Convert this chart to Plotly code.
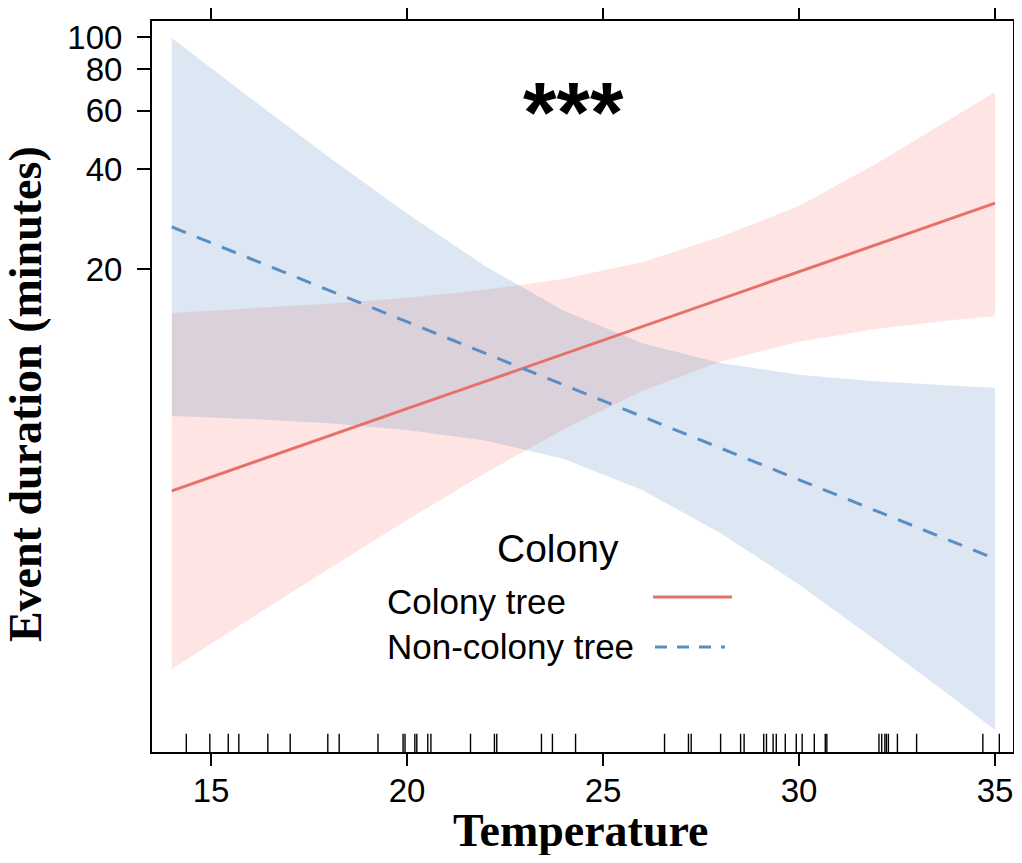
import plotly.graph_objects as go

# ---- data ----
temperature = [14, 16, 18, 20, 22, 24, 26, 28, 30, 32, 34, 35]

colony_fit = [4.29, 5.18, 6.27, 7.59, 9.17, 11.09, 13.42, 16.23, 19.63, 23.74, 28.71, 31.57]
colony_upper = [14.74, 15.19, 15.72, 16.39, 17.31, 18.68, 20.97, 25.0, 30.96, 41.73, 57.8, 68.3]
colony_lower = [1.247, 1.768, 2.497, 3.504, 4.858, 6.582, 8.581, 10.52, 12.08, 13.22, 14.07, 14.42]

noncolony_fit = [26.77, 21.50, 17.27, 13.87, 11.13, 8.94, 7.18, 5.77, 4.63, 3.72, 2.99, 2.68]
noncolony_upper = [99.3, 65.5, 43.5, 29.37, 20.40, 14.97, 11.95, 10.41, 9.61, 9.17, 8.89, 8.77]
noncolony_lower = [7.21, 7.07, 6.86, 6.55, 6.09, 5.35, 4.32, 3.20, 2.24, 1.51, 1.006, 0.817]

rug_temps = [14.37, 14.97, 15.44, 15.71, 16.45, 17.02, 17.98, 18.27, 19.26, 19.90, 19.95,
             20.20, 20.25, 20.53, 20.61, 21.62, 22.23, 22.29, 23.43, 23.71, 24.30,
             26.57, 27.18, 27.25, 28.00, 28.51, 28.60, 29.10, 29.17, 29.34, 29.42,
             29.65, 29.93, 30.08, 30.39, 30.67, 30.71, 32.04, 32.11, 32.19, 32.23,
             32.28, 32.51, 33.00, 34.69, 35.11]

x_ticks = [15, 20, 25, 30, 35]
y_ticks = [20, 40, 60, 80, 100]
y_tick_labels = ["20", "40", "60", "80", "100"]

legend_title = "Colony"
series_names = ["Colony tree", "Non-colony tree"]

RED = "#E8706B"
BLUE = "#5B8DC4"
RED_FILL = "rgba(248,118,109,0.20)"
BLUE_FILL = "rgba(70,130,190,0.19)"

fig = go.Figure()

# confidence bands
fig.add_trace(go.Scatter(
    x=temperature + temperature[::-1],
    y=colony_upper + colony_lower[::-1],
    fill="toself", fillcolor=RED_FILL, line=dict(width=0),
    mode="lines", hoverinfo="skip", showlegend=False))
fig.add_trace(go.Scatter(
    x=temperature + temperature[::-1],
    y=noncolony_upper + noncolony_lower[::-1],
    fill="toself", fillcolor=BLUE_FILL, line=dict(width=0),
    mode="lines", hoverinfo="skip", showlegend=False))

# fitted lines
fig.add_trace(go.Scatter(x=temperature, y=colony_fit, mode="lines",
                         line=dict(color=RED, width=3), name=series_names[0],
                         showlegend=False))
fig.add_trace(go.Scatter(x=temperature, y=noncolony_fit, mode="lines",
                         line=dict(color=BLUE, width=3, dash="15px,12px"),
                         name=series_names[1], showlegend=False))

shapes = []
# rug
for t in rug_temps:
    shapes.append(dict(type="line", xref="x", yref="paper", x0=t, x1=t, y0=0, y1=0.025,
                       line=dict(color="black", width=1.4)))
# legend samples
shapes.append(dict(type="line", xref="paper", yref="paper", x0=0.5819, x1=0.6736,
                   y0=0.212, y1=0.212, line=dict(color=RED, width=3)))
shapes.append(dict(type="line", xref="paper", yref="paper", x0=0.5842, x1=0.6655,
                   y0=0.1436, y1=0.1436, line=dict(color=BLUE, width=3, dash="12px,10px")))

annotations = [
    dict(text="<b>***</b>", xref="paper", yref="paper", x=0.4901, y=0.876, showarrow=False,
         font=dict(family="Liberation Sans", size=86, color="black"), xanchor="center",
         yanchor="middle"),
    dict(text=legend_title, xref="paper", yref="paper", x=0.4715, y=0.279, showarrow=False,
         font=dict(family="Liberation Sans", size=39, color="black"), xanchor="center",
         yanchor="middle"),
    dict(text=series_names[0], xref="paper", yref="paper", x=0.2706, y=0.2052, showarrow=False,
         font=dict(family="Liberation Sans", size=35, color="black"), xanchor="left",
         yanchor="middle"),
    dict(text=series_names[1], xref="paper", yref="paper", x=0.2706, y=0.145, showarrow=False,
         font=dict(family="Liberation Sans", size=35, color="black"), xanchor="left",
         yanchor="middle"),
    dict(text="<b>Temperature</b>", xref="paper", yref="paper", x=0.4983, y=-0.107,
         showarrow=False, font=dict(family="Liberation Serif", size=46, color="black"),
         xanchor="center", yanchor="middle"),
    dict(text="<b>Event duration (minutes)</b>", xref="paper", yref="paper", x=-0.146,
         y=0.49, showarrow=False, textangle=-90,
         font=dict(family="Liberation Serif", size=46, color="black"),
         xanchor="center", yanchor="middle"),
]

fig.update_layout(
    width=1006, height=847,
    margin=dict(l=144, r=1, t=13, b=103),
    paper_bgcolor="white", plot_bgcolor="white",
    shapes=shapes, annotations=annotations,
    showlegend=False,
)
fig.update_xaxes(
    automargin=False,
    range=[13.495, 35.459], tickvals=x_ticks, ticktext=[str(v) for v in x_ticks],
    showgrid=False, zeroline=False, showline=True, linecolor="black", linewidth=2,
    mirror="ticks", ticks="outside", ticklen=12, tickwidth=1.5, tickcolor="black",
    tickfont=dict(family="Liberation Sans", size=33, color="black"), ticklabelstandoff=-4,
)
fig.update_yaxes(
    automargin=False,
    type="log", range=[-0.1542, 2.0482], tickvals=y_ticks, ticktext=y_tick_labels,
    showgrid=False, zeroline=False, showline=True, linecolor="black", linewidth=2,
    mirror="ticks", ticks="outside", ticklen=13, tickwidth=1.5, tickcolor="black",
    tickfont=dict(family="Liberation Sans", size=33, color="black"), ticklabelstandoff=8,
)

fig.write_html("out.html")
